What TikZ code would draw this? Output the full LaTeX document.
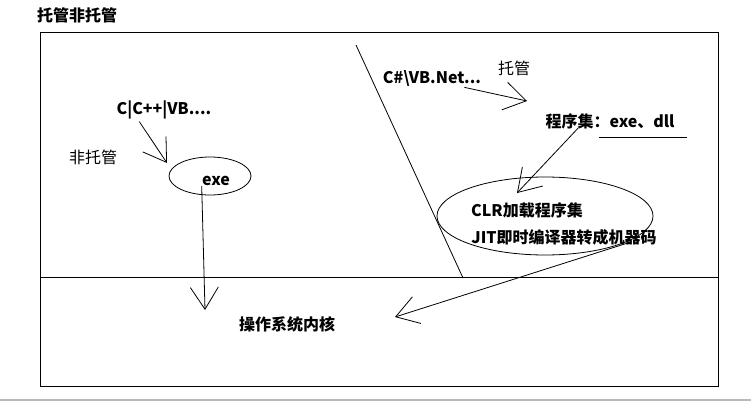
\documentclass[tikz,border=0pt]{standalone}
\usepackage{fontspec}
\setmainfont{Noto Sans CJK SC}
\usetikzlibrary{arrows.meta,shapes.geometric,positioning}

\begin{document}
\begin{tikzpicture}[x=1pt,y=-1pt,line width=0.8pt,
    word/.style={inner sep=0pt,font=\fontsize{16}{18}\selectfont},
    bold/.style={inner sep=0pt,font=\fontsize{16}{18}\selectfont\bfseries},
    oval/.style={draw,ellipse,inner sep=0pt},
    pen/.style={-{Straight Barb[length=22pt,width=28pt]}}]
   \useasboundingbox (0,0) rectangle (751,401);
   \fill[gray!55] (0,399) rectangle (751,401);

   % frame, the kernel line and the split
   \draw[line width=1pt] (40,33) rectangle (718,386);
   \draw (40,277) -- (718,277);
   \draw (356,45) -- (463,278);

   \node[bold] (title) at (77,15) {托管非托管};

   % unmanaged side
   \node[bold] (native) at (164,110) {C|C++|VB....};
   \node[word] (unmanaged) at (93,157) {非托管};
   \node[oval, minimum width=82pt, minimum height=38pt] (exebox) at (210,176) {};
   \node[bold] (exe) at (216,181) {exe};

   % managed side
   \node[bold] (dotnet) at (432,78) {C\#\textbackslash VB.Net...};
   \node[word] (managed) at (514,68) {托管};
   \node[bold] (assembly) at (610,121) {程序集：exe、dll};
   \draw (599,137) -- (687,137);
   \node[oval, minimum width=216pt, minimum height=78pt] (clrbox) at (545,216) {};
   \node[bold] (clr) at (527,210) {CLR加载程序集};
   \node[bold] (jit) at (564,237) {JIT即时编译器转成机器码};

   \node[bold] (kernel) at (287,324) {操作系统内核};

   \coordinate (exetip) at (167,163);
   \coordinate (asmtip) at (527,101);
   \coordinate (clrtip) at (517,193);
   \coordinate (kerneltop) at (205,310);
   \coordinate (kernelin) at (395,317);

   \draw[pen] ([xshift=23pt,yshift=-2pt]native.south west) -- (exetip);
   \draw[pen] (exe.south west) -- (kerneltop);
   \draw[pen] ([xshift=-17pt,yshift=-1pt]dotnet.south east) -- (asmtip);
   \draw[pen] ([xshift=33pt,yshift=1pt]assembly.south west) -- (clrtip);
   \draw[pen] ([xshift=-27pt,yshift=3pt]jit.south east) -- (kernelin);
\end{tikzpicture}
\end{document}
